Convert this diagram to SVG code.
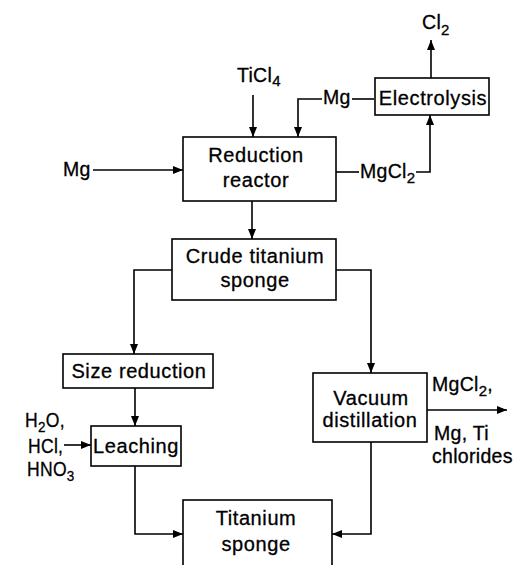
<svg xmlns="http://www.w3.org/2000/svg" width="516" height="565" viewBox="0 0 516 565">
<defs>
<marker id="ah" markerUnits="userSpaceOnUse" markerWidth="10" markerHeight="8" refX="10" refY="4" orient="auto">
<path d="M0,0 L10,4 L0,8 z" fill="#000"/>
</marker>
<style>
.box{fill:#fff;stroke:#000;stroke-width:1.6}
.ln{fill:none;stroke:#000;stroke-width:1.6}
.ar{marker-end:url(#ah)}
text{font-family:"Liberation Sans",Arial,sans-serif;font-size:20px;letter-spacing:0.6px;fill:#000;stroke:#000;stroke-width:0.3}
.c{text-anchor:middle}
.lb{font-size:19.5px;letter-spacing:0.3px}
.sub{font-size:15px}
</style>
</defs>
<rect width="516" height="565" fill="#fff"/>
<g id="connectors">
<path class="ln ar" d="M93,170 H183"/>
<path class="ln ar" d="M253,95 V137"/>
<path class="ln ar" d="M322,99 H298 V137"/>
<path class="ln" d="M374,99 H352"/>
<path class="ln ar" d="M431,78 V40"/>
<path class="ln" d="M336,172 H359"/>
<path class="ln ar" d="M416,172 H430 V115"/>
<path class="ln ar" d="M252,201 V239"/>
<path class="ln ar" d="M172,270 H134 V354"/>
<path class="ln ar" d="M336,270 H371 V373"/>
<path class="ln ar" d="M135,388 V426"/>
<path class="ln ar" d="M64,445 H91"/>
<path class="ln ar" d="M135,466 V534 H183"/>
<path class="ln ar" d="M371,442 V534 H332"/>
<path class="ln ar" d="M427,410 H507"/>
</g>
<g id="reactor">
<rect class="box" x="183" y="137" width="153" height="64"/>
<text class="c" x="256" y="162">Reduction</text>
<text class="c" x="256" y="187">reactor</text>
</g>
<g id="electrolysis">
<rect class="box" x="375" y="78" width="114" height="37"/>
<text class="c" x="433" y="105">Electrolysis</text>
</g>
<g id="crude">
<rect class="box" x="172" y="239" width="164" height="61"/>
<text class="c" x="255" y="263">Crude titanium</text>
<text class="c" x="255" y="287">sponge</text>
</g>
<g id="size">
<rect class="box" x="63" y="354" width="150" height="34"/>
<text class="c" x="139" y="378">Size reduction</text>
</g>
<g id="leaching">
<rect class="box" x="91" y="426" width="90" height="40"/>
<text class="c" x="136" y="453">Leaching</text>
</g>
<g id="vacuum">
<rect class="box" x="313" y="373" width="114" height="69"/>
<text class="c" x="371" y="405">Vacuum</text>
<text class="c" x="370" y="427">distillation</text>
</g>
<g id="titanium">
<rect class="box" x="183" y="500" width="149" height="75"/>
<text class="c" x="256" y="525">Titanium</text>
<text class="c" x="256" y="551">sponge</text>
</g>
<g id="labels">
<text class="lb" x="422" y="29">Cl<tspan class="sub" dy="6">2</tspan></text>
<text class="lb" x="237" y="82">TiCl<tspan class="sub" dy="4">4</tspan></text>
<text class="lb" x="323" y="104">Mg</text>
<text class="lb" x="63" y="176">Mg</text>
<text class="lb" x="360" y="178">MgCl<tspan class="sub" dy="5">2</tspan></text>
<text class="lb" transform="translate(25,427) scale(0.9,1)">H<tspan class="sub" dy="5">2</tspan><tspan dy="-5">O,</tspan></text>
<text class="lb" transform="translate(28,453) scale(0.9,1)">HCl,</text>
<text class="lb" transform="translate(27,476) scale(0.9,1)">HNO<tspan class="sub" dy="5">3</tspan></text>
<text class="lb" x="432" y="391">MgCl<tspan class="sub" dy="5">2</tspan><tspan dy="-5">,</tspan></text>
<text class="lb" x="434" y="440">Mg, Ti</text>
<text class="lb" x="432" y="463">chlorides</text>
</g>
</svg>
